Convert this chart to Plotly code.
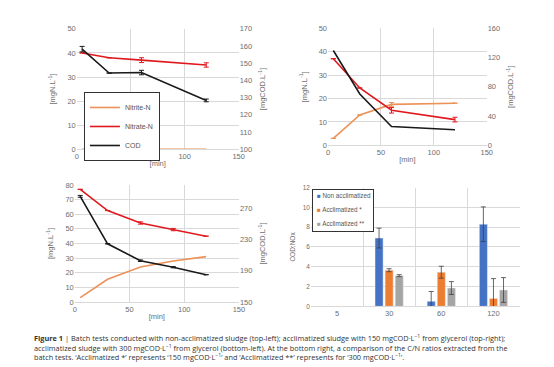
import plotly.graph_objects as go

# ---------------- data ----------------
# Panel 1: non-acclimatized sludge
t1 = [5, 30, 60, 120]
nitrite1 = [0, 0, 0, 0]
nitrate1 = [40.0, 38.0, 37.0, 35.0]
nitrate1_err = [0, 0, 1.0, 0.9]
cod1 = [158.2, 144.3, 144.6, 128.4]
cod1_err = [1.6, 0, 1.3, 0.8]

# Panel 2: acclimatized 150 mgCOD/L
t2 = [5, 30, 60, 120]
nitrite2 = [3.0, 13.0, 17.5, 18.0]
nitrite2_err = [0, 0, 0.8, 0]
nitrate2 = [37.0, 24.5, 15.0, 11.0]
nitrate2_err = [0, 0, 1.2, 1.0]
cod2 = [129.6, 70.2, 25.8, 21.3]

# Panel 3: acclimatized 300 mgCOD/L
t3 = [5, 30, 60, 90, 120]
nitrite3 = [3.0, 15.5, 24.0, 28.0, 31.0]
nitrate3 = [77.0, 62.5, 54.0, 49.5, 45.0]
nitrate3_err = [0, 0, 0.8, 0.8, 0]
cod3 = [285.4, 224.6, 202.9, 194.6, 185.0]
cod3_err = [1.2, 0, 1.0, 0.8, 0]

# Panel 4: COD:NOx ratios
cats = ["5", "30", "60", "120"]
non_accl = [None, 6.9, 0.5, 8.3]
non_accl_err = [0, 1.0, 1.0, 1.75]
accl1 = [None, 3.65, 3.45, 0.8]
accl1_err = [0, 0.15, 0.6, 2.0]
accl2 = [None, 3.1, 1.85, 1.65]
accl2_err = [0, 0.1, 0.65, 1.25]
bar_names = ["Non acclimatized", "Acclimatized *", "Acclimatized **"]
bar_colors = ["#4472C4", "#ED7D31", "#A5A5A5"]

C_NITRITE = "#EC9158"
C_NITRATE = "#E0191E"
C_COD = "#1A1A1A"
GRID = "#D9D9D9"
TICK = "#6E6E6E"
FONT = "Liberation Sans"

fig = go.Figure()

def lines(x, y, color, xa, ya, name, show, err=None):
    fig.add_trace(go.Scatter(
        x=x, y=y, mode="lines", name=name, xaxis=xa, yaxis=ya,
        line=dict(color=color, width=1.6), legend="legend", showlegend=show,
        error_y=dict(type="data", array=err, color=color, thickness=1, width=2.5)
        if err is not None else None,
    ))

# Panel 1
lines(t1, nitrite1, C_NITRITE, "x", "y", "Nitrite-N", True)
lines(t1, nitrate1, C_NITRATE, "x", "y", "Nitrate-N", True, nitrate1_err)
lines(t1, cod1, C_COD, "x", "y2", "COD", True, cod1_err)
# Panel 2
lines(t2, nitrite2, C_NITRITE, "x2", "y3", "Nitrite-N", False, nitrite2_err)
lines(t2, nitrate2, C_NITRATE, "x2", "y3", "Nitrate-N", False, nitrate2_err)
lines(t2, cod2, C_COD, "x2", "y4", "COD", False)
# Panel 3
lines(t3, nitrite3, C_NITRITE, "x3", "y5", "Nitrite-N", False)
lines(t3, nitrate3, C_NITRATE, "x3", "y5", "Nitrate-N", False, nitrate3_err)
lines(t3, cod3, C_COD, "x3", "y6", "COD", False, cod3_err)

# Panel 4 bars
for name, vals, err, col in zip(bar_names, [non_accl, accl1, accl2],
                                [non_accl_err, accl1_err, accl2_err], bar_colors):
    fig.add_trace(go.Bar(
        x=cats, y=vals, name=name, xaxis="x4", yaxis="y7", marker_color=col,
        showlegend=False,
        error_y=dict(type="data", array=err, color="#404040", thickness=0.8, width=2.5),
    ))

tickfont = dict(family=FONT, size=7.5, color=TICK)
titlefont = dict(family=FONT, size=7.5, color=TICK)

def xax(domain, anchor):
    return dict(domain=domain, anchor=anchor, range=[0, 150], dtick=50, showgrid=True,
                gridcolor=GRID, gridwidth=1, showline=True, linecolor=GRID,
                zeroline=False, ticks="", tickfont=tickfont,
                title=dict(text="[min]", font=titlefont, standoff=0))

def yax(domain, anchor, rng, dtick, title):
    return dict(domain=domain, anchor=anchor, range=rng, dtick=dtick, showgrid=True,
                gridcolor=GRID, zeroline=False, showline=False, ticks="",
                tickfont=tickfont, title=dict(text=title, font=titlefont, standoff=10))

def yax_r(overlay, anchor, rng, dtick, title):
    return dict(overlaying=overlay, anchor=anchor, side="right", range=rng, dtick=dtick,
                tick0=rng[0], showgrid=False, zeroline=False, showline=False, ticks="",
                tickfont=tickfont, title=dict(text=title, font=titlefont, standoff=8))

YN = "[mgN.L<sup>-1</sup>]"
YC = "[mgCOD.L<sup>-1</sup>]"

caption = ("<b>Figure 1</b> | Batch tests conducted with non-acclimatized sludge (top-left); "
           "acclimatized sludge with 150 mgCOD·L<sup>−1</sup> from glycerol (top-right);<br>"
           "acclimatized sludge with 300 mgCOD·L<sup>−1</sup> from glycerol (bottom-left). "
           "At the bottom right, a comparison of the C/N ratios extracted from the<br>"
           "batch tests. ‘Acclimatized *’ represents ‘150 mgCOD·L<sup>−1</sup>’ and "
           "‘Acclimatized **’ represents for ‘300 mgCOD·L<sup>−1</sup>’.")

annotations = [dict(text=caption, x=22 / 554, y=1 - 327 / 367, xref="paper", yref="paper",
                    xanchor="left", yanchor="top", align="left", showarrow=False,
                    font=dict(family="Open Sans", size=7.35, color="#333333"))]

# bar chart legend box (text-based)
lx0, ly0 = 306 / 554, 1 - 181 / 367
annotations.append(dict(text="", x=lx0, y=ly0, xref="paper", yref="paper",
                        xanchor="left", yanchor="top", showarrow=False,
                        width=60, height=41, bordercolor="#333333", borderwidth=1,
                        bgcolor="white", borderpad=0))
for i, (name, col) in enumerate(zip(bar_names, bar_colors)):
    annotations.append(dict(
        text=f"<span style='color:{col}'>■</span> {name}",
        x=309 / 554, y=1 - (188 + 14.3 * i) / 367, xref="paper", yref="paper",
        xanchor="left", yanchor="middle", showarrow=False,
        font=dict(family=FONT, size=6.3, color="#555555")))

fig.update_layout(
    width=554, height=367, margin=dict(l=0, r=0, t=0, b=0),
    paper_bgcolor="white", plot_bgcolor="white",
    font=dict(family=FONT, color=TICK),
    barmode="group", bargap=0.42, bargroupgap=0.2,
    xaxis=xax([0.1222, 0.4188], "y"),
    yaxis=yax([0.6166, 0.9529], "x", [0, 50], 10, YN),
    yaxis2=yax_r("y", "x", [100, 170], 10, YC),
    xaxis2=xax([0.5825, 0.8731], "y3"),
    yaxis3=yax([0.6275, 0.9545], "x2", [0, 50], 10, YN),
    yaxis4=yax_r("y3", "x2", [0, 160], 40, YC),
    xaxis3=xax([0.1186, 0.4193], "y5"),
    yaxis5=yax([0.1899, 0.5169], "x3", [0, 80], 10, YN),
    yaxis6=yax_r("y5", "x3", [150, 300], 40, YC),
    xaxis4=dict(domain=[0.5511, 0.9332], anchor="y7", type="category", showgrid=False,
                showline=True, linecolor=GRID, ticks="", tickfont=tickfont),
    xaxis5=dict(overlaying="x4", anchor="y7", range=[-0.5, 3.5], tick0=-0.5, dtick=1,
                showgrid=True, gridcolor=GRID, showticklabels=False, zeroline=False,
                showline=False, ticks=""),
    yaxis7=dict(domain=[0.1779, 0.5095], anchor="x4", range=[0, 12], dtick=2,
                showgrid=True, gridcolor=GRID, zeroline=False, ticks="",
                tickfont=dict(family=FONT, size=6.5, color=TICK),
                title=dict(text="COD:NOx", font=dict(family=FONT, size=6.5, color=TICK), standoff=6)),
    legend=dict(x=75 / 554, y=1 - 82 / 367, xanchor="left", yanchor="top",
                bgcolor="white", bordercolor="#333333", borderwidth=1,
                font=dict(family=FONT, size=7, color="#555555"),
                tracegroupgap=0, itemwidth=30),
    annotations=annotations,
)

# invisible trace so overlay axis x5 is drawn
fig.add_trace(go.Scatter(x=[0], y=[0], xaxis="x5", yaxis="y7", mode="markers",
                         marker=dict(opacity=0), showlegend=False, hoverinfo="skip"))

fig.write_html("out.html")
